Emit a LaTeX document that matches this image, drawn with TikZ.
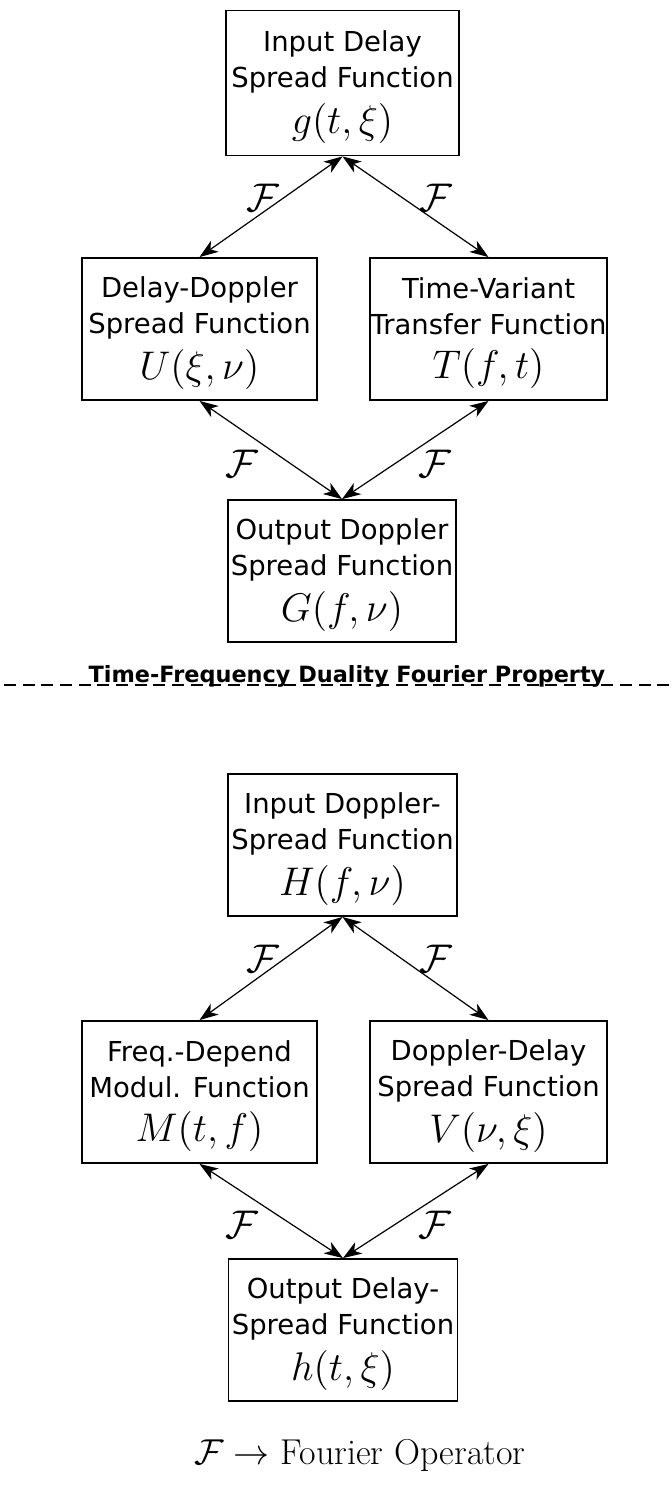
\documentclass[tikz,border=0pt]{standalone}
\usepackage{fontspec}
\setsansfont{DejaVu Sans}
\usetikzlibrary{arrows.meta}

% let the Computer Modern math fonts scale to any size
\DeclareFontShape{OML}{cmm}{m}{it}{<->cmmi12}{\skewchar\font=127}
\DeclareFontShape{OMS}{cmsy}{m}{n}{<->cmsy10}{\skewchar\font=48}
\DeclareFontShape{OT1}{cmr}{m}{n}{<->cmr12}{}
\DeclareFontShape{OMX}{cmex}{m}{n}{<->cmex10}{}

% three-line content of a function box: two text lines and the formula
\newcommand{\fnlines}[3]{\rule{0pt}{22pt}#1\\#2\\[7pt]{\fontsize{30pt}{32pt}\selectfont$#3$}}

\begin{document}
\begin{tikzpicture}[x=0.75pt,y=-0.75pt,
  fnbox/.style={draw, line width=1.4pt, inner sep=0pt, minimum height=106.5pt,
    align=center, font=\sffamily\fontsize{20.6pt}{26.5pt}\selectfont},
  dual/.style={{Stealth[length=14pt,width=10pt,inset=4pt]}-{Stealth[length=14pt,width=10pt,inset=4pt]},
    line width=0.9pt},
  flabel/.style={font=\fontsize{30pt}{32pt}\selectfont, inner sep=0pt},
  divider/.style={line width=1.5pt, dash pattern=on 9pt off 5pt, dash phase=-3pt},
]
\useasboundingbox (0,0) rectangle (671,1488);

% time-domain / delay-domain quartet
\node[fnbox, minimum width=174.75pt, minimum height=108.75pt] (g) at (342.5,83) {\fnlines{Input Delay}{Spread Function}{g(t,\xi)}};
\node[fnbox, minimum width=176.25pt] (U) at (199.5,329) {\fnlines{Delay-Doppler}{Spread Function}{U(\xi,\nu)}};
\node[fnbox, minimum width=177.75pt] (T) at (488.5,329) {\fnlines{Time-Variant}{Transfer Function}{T(f,t)}};
\node[fnbox, minimum width=171pt] (G) at (342,571) {\fnlines{Output Doppler}{Spread Function}{G(f,\nu)}};

\draw[dual] (g.south) -- node[flabel, xshift=-6pt, yshift=7pt] (f1) {$\mathcal{F}$} (U.north);
\draw[dual] (g.south) -- node[flabel, xshift=15pt, yshift=7pt] (f2) {$\mathcal{F}$} (T.north);
\draw[dual] (U.south) -- node[flabel, xshift=-22pt, yshift=-10pt] (f3) {$\mathcal{F}$} (G.north);
\draw[dual] (T.south) -- node[flabel, xshift=14.5pt, yshift=-10pt] (f4) {$\mathcal{F}$} (G.north);

% divider with its caption
\coordinate (divL) at (0,685);
\coordinate (divR) at (671,685);
\draw[divider] (divL) -- (divR);
\node[font=\sffamily\bfseries\fontsize{16.8pt}{19pt}\selectfont, anchor=base, inner sep=0pt] (title) at (347,682)
  {Time-Frequency Duality Fourier Property};

% dual quartet
\node[fnbox, minimum width=171.75pt] (H) at (342.5,845) {\fnlines{Input Doppler-}{Spread Function}{H(f,\nu)}};
\node[fnbox, minimum width=176.25pt] (M) at (199.5,1092) {\fnlines{Freq.-Depend}{Modul. Function}{M(t,f)}};
\node[fnbox, minimum width=177.75pt] (V) at (488.5,1092) {\fnlines{Doppler-Delay}{Spread Function}{V(\nu,\xi)}};
\node[fnbox, minimum width=171.75pt] (h) at (343,1330) {\fnlines{Output Delay-}{Spread Function}{h(t,\xi)}};

\draw[dual] (H.south) -- node[flabel, xshift=-6pt, yshift=7pt] (f5) {$\mathcal{F}$} (M.north);
\draw[dual] (H.south) -- node[flabel, xshift=15pt, yshift=7pt] (f6) {$\mathcal{F}$} (V.north);
\draw[dual] (M.south) -- node[flabel, xshift=-22pt, yshift=-10pt] (f7) {$\mathcal{F}$} (h.north);
\draw[dual] (V.south) -- node[flabel, xshift=14.5pt, yshift=-10pt] (f8) {$\mathcal{F}$} (h.north);

% legend
\node[font=\fontsize{27pt}{30pt}\selectfont, anchor=base, inner sep=0pt] (legend) at (360,1464)
  {$\mathcal{F}\rightarrow$ Fourier Operator};
\end{tikzpicture}
\end{document}
